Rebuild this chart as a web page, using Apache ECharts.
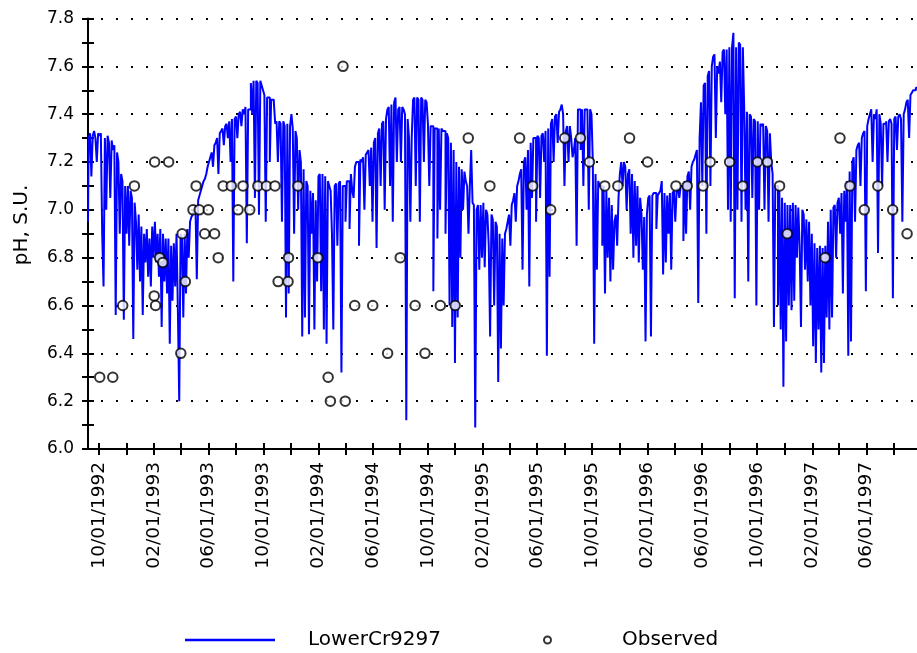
<!DOCTYPE html>
<html>
<head>
<meta charset="utf-8">
<script src="https://cdn.jsdelivr.net/npm/echarts@6/dist/echarts.min.js"></script>
<style>
html,body{margin:0;padding:0;background:#fff;}
#chart{width:917px;height:653px;}
</style>
</head>
<body>
<div id="chart"></div>
<script>
// ---- Data ----
// Simulated series "LowerCr9297": one value every 3 days starting 1992-09-07
const simStart = '1992-09-07';
const simStepDays = 3;
const simValues = [
  6.95, 7.30, 7.32, 7.14, 7.31, 7.33, 7.30, 7.20, 7.32, 7.31,
  7.32, 6.90, 6.68, 7.30, 7.00, 7.31, 7.28, 7.05, 7.29, 7.25,
  7.27, 6.56, 7.24, 7.20, 6.90, 7.15, 7.12, 6.54, 7.10, 6.90,
  7.10, 6.85, 7.08, 7.05, 6.46, 7.03, 6.95, 6.75, 6.98, 6.70,
  6.93, 6.56, 6.90, 6.78, 6.92, 6.72, 6.88, 6.68, 6.93, 6.80,
  6.95, 6.78, 6.90, 6.72, 6.92, 6.51, 6.90, 6.70, 6.88, 6.65,
  6.88, 6.44, 6.85, 6.62, 6.86, 6.68, 6.90, 6.58, 6.20, 6.90,
  6.88, 6.55, 6.90, 6.65, 6.92, 6.80, 6.95, 6.97, 6.98, 7.00,
  7.02, 6.71, 7.04, 7.06, 7.08, 7.10, 7.12, 7.13, 7.15, 7.18,
  7.20, 7.22, 7.24, 7.18, 7.27, 7.28, 7.30, 7.15, 7.32, 7.33,
  7.34, 7.27, 7.35, 7.36, 7.30, 7.37, 7.20, 7.38, 6.70, 7.38,
  7.39, 7.30, 7.40, 7.41, 7.35, 7.42, 7.40, 7.43, 6.86, 7.42,
  7.42, 7.53, 7.40, 7.54, 7.05, 7.54, 7.53, 6.98, 7.54, 7.52,
  7.50, 7.48, 6.95, 7.47, 7.47, 7.20, 7.46, 7.46, 7.45, 7.36,
  7.37, 7.20, 7.37, 7.36, 6.95, 7.37, 7.35, 6.55, 7.36, 6.65,
  7.35, 7.40, 7.34, 6.90, 7.33, 7.30, 7.00, 7.25, 7.20, 6.47,
  7.17, 6.55, 7.12, 7.10, 6.48, 7.08, 6.90, 7.07, 6.50, 7.04,
  6.70, 7.14, 7.15, 6.66, 7.15, 6.50, 7.14, 6.44, 7.12, 7.10,
  7.08, 6.90, 6.50, 7.10, 7.11, 6.85, 7.11, 7.12, 6.32, 7.10,
  7.10, 6.95, 7.12, 7.12, 6.92, 7.15, 7.08, 7.05, 7.18, 7.20,
  7.20, 6.85, 7.21, 7.20, 7.22, 7.00, 7.23, 7.24, 7.25, 7.10,
  7.26, 6.95, 7.28, 7.30, 6.84, 7.32, 7.34, 7.10, 7.36, 7.37,
  7.00, 7.38, 7.42, 7.43, 7.10, 7.44, 6.95, 7.45, 7.47, 7.20,
  7.42, 7.43, 7.20, 7.43, 7.42, 7.40, 6.12, 7.38, 7.30, 6.95,
  7.30, 7.46, 7.47, 7.10, 7.47, 7.46, 6.95, 7.47, 7.46, 7.20,
  7.46, 7.45, 7.36, 7.10, 7.35, 7.35, 6.66, 7.34, 7.34, 6.88,
  7.34, 7.00, 7.34, 7.33, 7.33, 6.90, 7.32, 7.30, 6.60, 7.28,
  6.51, 7.25, 6.36, 7.20, 6.55, 7.18, 6.80, 7.17, 7.00, 7.16,
  7.12, 7.10, 6.90, 7.10, 7.25, 7.03, 7.02, 6.09, 7.00, 7.02,
  6.75, 7.02, 6.80, 7.03, 6.76, 7.00, 6.98, 6.85, 6.47, 6.98,
  6.96, 6.60, 6.95, 6.93, 6.28, 6.90, 6.42, 6.88, 6.60, 6.90,
  6.92, 6.95, 6.98, 6.85, 7.02, 7.04, 7.07, 6.95, 7.10, 7.12,
  7.15, 7.17, 6.75, 7.20, 7.22, 7.00, 7.25, 6.68, 7.28, 7.05,
  7.30, 7.30, 6.95, 7.31, 7.30, 7.05, 7.31, 7.32, 7.20, 7.33,
  6.39, 7.34, 6.72, 7.36, 7.38, 7.20, 7.39, 7.40, 7.28, 7.41,
  7.42, 7.44, 7.40, 7.10, 7.33, 7.35, 7.20, 7.35, 7.30, 7.22,
  7.25, 7.30, 6.85, 7.42, 7.42, 7.25, 7.42, 7.10, 7.42, 7.42,
  7.41, 7.00, 7.42, 7.40, 7.20, 6.44, 7.15, 6.75, 7.12, 7.10,
  7.10, 6.85, 7.10, 6.65, 7.08, 6.80, 7.05, 6.70, 7.02, 6.75,
  6.95, 6.98, 6.85, 7.05, 7.15, 7.20, 7.10, 7.20, 7.18, 7.00,
  7.15, 7.17, 6.90, 7.15, 6.80, 7.12, 6.85, 7.10, 6.78, 7.05,
  6.98, 6.75, 6.97, 6.45, 6.98, 7.05, 7.06, 6.47, 7.06, 7.07,
  7.07, 6.92, 7.06, 7.07, 7.08, 7.12, 6.73, 7.07, 6.78, 7.06,
  6.90, 7.07, 6.75, 7.07, 7.08, 6.95, 7.08, 7.09, 7.05, 7.10,
  7.10, 6.87, 7.12, 6.90, 7.14, 7.16, 7.00, 7.18, 7.20, 7.21,
  7.23, 7.25, 6.61, 7.30, 7.45, 7.10, 7.52, 7.53, 6.90, 7.56,
  7.58, 7.10, 7.60, 7.64, 7.65, 7.30, 7.60, 7.57, 7.62, 7.45,
  7.66, 7.67, 7.40, 7.67, 7.00, 7.68, 6.95, 7.68, 7.74, 6.63,
  7.68, 7.00, 7.70, 7.69, 6.95, 7.68, 7.42, 7.00, 7.41, 6.70,
  7.40, 7.39, 7.05, 7.38, 7.37, 6.60, 7.37, 7.00, 7.36, 7.35,
  7.36, 7.00, 7.35, 7.33, 6.95, 7.32, 7.20, 7.15, 6.51, 7.10,
  7.10, 6.60, 7.08, 6.50, 7.05, 6.26, 7.03, 6.45, 7.02, 6.60,
  7.02, 6.58, 7.03, 6.62, 7.02, 6.80, 7.01, 6.85, 6.51, 7.00,
  6.98, 6.75, 6.96, 6.70, 6.95, 6.60, 6.90, 6.43, 6.86, 6.36,
  6.84, 6.50, 6.85, 6.32, 6.84, 6.36, 6.85, 6.55, 6.95, 6.50,
  7.00, 6.55, 7.01, 7.02, 6.80, 7.03, 7.05, 6.90, 7.07, 6.65,
  7.08, 6.95, 7.12, 6.39, 7.16, 6.45, 7.20, 7.22, 6.95, 7.25,
  7.27, 7.28, 7.10, 7.30, 7.32, 7.33, 6.66, 7.35, 7.38, 7.40,
  7.42, 7.20, 7.40, 7.38, 7.42, 6.82, 7.40, 7.36, 7.10, 7.36,
  7.36, 7.37, 7.20, 7.37, 7.38, 7.36, 6.63, 7.38, 7.39, 7.25,
  7.39, 7.40, 7.38, 6.95, 7.40, 7.42, 7.45, 7.46, 7.30, 7.48,
  7.49, 7.50, 7.50, 7.51, 7.51
];

// Observed samples
const obsDates = [
  '1992-10-03','1992-11-01','1992-11-23','1992-12-19','1993-02-01','1993-02-02','1993-02-04',
  '1993-02-13','1993-02-20','1993-03-05','1993-04-01','1993-04-04','1993-04-11','1993-04-28',
  '1993-05-05','1993-05-12','1993-05-24','1993-06-01','1993-06-15','1993-06-23','1993-07-04',
  '1993-07-22','1993-08-06','1993-08-17','1993-09-01','1993-09-19','1993-10-08','1993-10-27',
  '1993-11-03','1993-11-25','1993-11-26','1993-12-17','1994-01-30','1994-02-22','1994-02-27',
  '1994-03-27','1994-04-01','1994-04-22','1994-06-01','1994-07-04','1994-08-01','1994-09-03',
  '1994-09-25','1994-10-29','1994-12-01','1994-12-30','1995-02-16','1995-04-23','1995-05-22',
  '1995-07-01','1995-08-01','1995-09-05','1995-09-25','1995-10-29','1995-11-27','1995-12-23',
  '1996-02-01','1996-04-04','1996-04-29','1996-06-03','1996-06-19','1996-08-01','1996-08-30',
  '1996-10-02','1996-10-24','1996-11-20','1996-12-07','1997-03-01','1997-04-03','1997-04-25',
  '1997-05-27','1997-06-26','1997-07-29','1997-08-30'
];
const obsValues = [
  6.3, 6.3, 6.6, 7.1, 6.64, 7.2, 6.6,
  6.8, 6.78, 7.2, 6.4, 6.9, 6.7, 7.0,
  7.1, 7.0, 6.9, 7.0, 6.9, 6.8, 7.1,
  7.1, 7.0, 7.1, 7.0, 7.1, 7.1, 7.1,
  6.7, 6.7, 6.8, 7.1, 6.8, 6.3, 6.2,
  7.6, 6.2, 6.6, 6.6, 6.4, 6.8, 6.6,
  6.4, 6.6, 6.6, 7.3, 7.1, 7.3, 7.1,
  7.0, 7.3, 7.3, 7.2, 7.1, 7.1, 7.3,
  7.2, 7.1, 7.1, 7.1, 7.2, 7.2, 7.1,
  7.2, 7.2, 7.1, 6.9, 6.8, 7.3, 7.1,
  7.0, 7.1, 7.0, 6.9
];

// Axis ticks (every 2 months) and labels (every 4 months)
const tickDates = [
  '1992-10-01','1992-12-01','1993-02-01','1993-04-01','1993-06-01','1993-08-01','1993-10-01','1993-12-01',
  '1994-02-01','1994-04-01','1994-06-01','1994-08-01','1994-10-01','1994-12-01',
  '1995-02-01','1995-04-01','1995-06-01','1995-08-01','1995-10-01','1995-12-01',
  '1996-02-01','1996-04-01','1996-06-01','1996-08-01','1996-10-01','1996-12-01',
  '1997-02-01','1997-04-01','1997-06-01','1997-08-01'
];
const labelDates = [
  '1992-10-01','1993-02-01','1993-06-01','1993-10-01','1994-02-01','1994-06-01','1994-10-01',
  '1995-02-01','1995-06-01','1995-10-01','1996-02-01','1996-06-01','1996-10-01',
  '1997-02-01','1997-06-01'
];
const xMinDate = '1992-09-07';
const xMaxDate = '1997-09-21';

// ---- Build chart ----
const DAY = 86400000;
function ts(s) { return Date.parse(s + 'T00:00:00Z'); }
function pad2(n) { return (n < 10 ? '0' : '') + n; }
function fmtDate(v) {
  const d = new Date(v);
  return pad2(d.getUTCMonth() + 1) + '/' + pad2(d.getUTCDate()) + '/' + d.getUTCFullYear();
}
const t0 = ts(simStart);
const simData = simValues.map((v, i) => [t0 + i * simStepDays * DAY, v]);
const obsData = obsDates.map((d, i) => [ts(d), obsValues[i]]);

const FONT = 'DejaVu Sans';
const gridBox = { left: 88, right: 0, top: 18.5, bottom: 204 };
const xMin = ts(xMinDate), xMax = ts(xMaxDate);

const chart = echarts.init(document.getElementById('chart'), null, { renderer: 'canvas' });
chart.setOption({
  animation: false,
  backgroundColor: '#ffffff',
  textStyle: { fontFamily: FONT, color: '#000' },
  grid: [Object.assign({}, gridBox), Object.assign({}, gridBox)],
  xAxis: [
    {
      type: 'value', gridIndex: 0, min: xMin, max: xMax, position: 'bottom',
      axisLine: { show: true, onZero: false, lineStyle: { color: '#000', width: 2 } },
      axisTick: { show: true, length: 6, lineStyle: { color: '#000', width: 2 }, customValues: tickDates.map(ts) },
      axisLabel: {
        customValues: labelDates.map(ts), rotate: 90, margin: 13,
        formatter: fmtDate, color: '#000', fontSize: 18.5, fontFamily: FONT
      },
      splitLine: { show: false }
    },
    {
      type: 'value', gridIndex: 1, min: xMin, max: xMax, position: 'bottom',
      axisLine: { show: false, onZero: false },
      axisTick: { show: true, inside: true, length: 6, lineStyle: { color: '#000', width: 2 }, customValues: tickDates.map(ts) },
      axisLabel: { show: false },
      splitLine: { show: false }
    }
  ],
  yAxis: [
    {
      type: 'value', gridIndex: 0, min: 6.0, max: 7.8, interval: 0.2,
      axisLine: { show: true, lineStyle: { color: '#000', width: 2 } },
      axisTick: { show: true, length: 6, lineStyle: { color: '#000', width: 2 } },
      minorTick: { show: true, splitNumber: 2, length: 6, lineStyle: { color: '#000', width: 2 } },
      axisLabel: { formatter: v => v.toFixed(1), color: '#000', fontSize: 17, margin: 14, fontFamily: FONT },
      splitLine: { show: true, lineStyle: { color: '#000', width: 2, type: [2, 13], dashOffset: 2 } }
    },
    {
      type: 'value', gridIndex: 1, min: 6.0, max: 7.8, interval: 0.2,
      axisLine: { show: false },
      axisTick: { show: true, inside: true, length: 6, lineStyle: { color: '#000', width: 2 } },
      minorTick: { show: true, splitNumber: 2, length: 6, lineStyle: { color: '#000', width: 2 } },
      axisLabel: { show: false },
      splitLine: { show: false }
    }
  ],
  graphic: [
    {
      type: 'text', x: 22, y: 225, rotation: Math.PI / 2,
      style: { text: 'pH, S.U.', fill: '#000', font: '20px "DejaVu Sans"', align: 'center', verticalAlign: 'middle' }
    }
  ],
  legend: [
    {
      data: [{ name: 'LowerCr9297', icon: 'rect' }], left: 180, top: 625, itemWidth: 90, itemHeight: 2.5,
      selectedMode: false,
      itemStyle: { color: '#0000ff' },
      textStyle: { fontSize: 20, color: '#000', fontFamily: FONT, padding: [0, 0, 0, 28] }
    },
    {
      data: ['Observed'], left: 538, top: 625, itemWidth: 7, itemHeight: 7,
      selectedMode: false,
      textStyle: { fontSize: 20, color: '#000', fontFamily: FONT, padding: [0, 0, 0, 66] }
    }
  ],
  series: [
    {
      name: 'LowerCr9297', type: 'line', xAxisIndex: 0, yAxisIndex: 0,
      data: simData, step: 'middle', symbol: 'none', clip: true,
      lineStyle: { color: '#0000ff', width: 2 }, itemStyle: { color: '#0000ff' }, z: 2
    },
    {
      name: 'Observed', type: 'scatter', xAxisIndex: 0, yAxisIndex: 0,
      data: obsData, symbol: 'emptyCircle', symbolSize: 9.5,
      itemStyle: { color: '#000', borderColor: '#000', borderWidth: 1.8 }, z: 3
    }
  ]
});
</script>
</body>
</html>
